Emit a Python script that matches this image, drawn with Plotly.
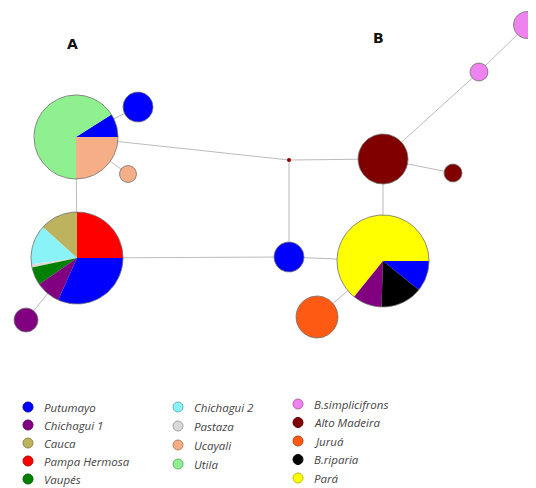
import math
import plotly.graph_objects as go

# ---------------- data ----------------
populations = ["Putumayo", "Chichagui 1", "Cauca", "Pampa Hermosa", "Vaupés",
               "Chichagui 2", "Pastaza", "Ucayali", "Utila",
               "B.simplicifrons", "Alto Madeira", "Juruá", "B.riparia", "Pará"]
pop_colors = ["#0000FF", "#800080", "#BDB35F", "#FF0000", "#008000",
              "#8AF3F7", "#D9D9D9", "#F6AE86", "#8EF08E",
              "#EE82EE", "#800000", "#FF5A14", "#000000", "#FFFF00"]

# haplotype compositions (population, share) in slice order
hap_A1_pops = ["Putumayo", "Utila", "Ucayali"]
hap_A1_vals = [0.09, 0.66, 0.25]
hap_A2_pops = ["Pampa Hermosa", "Cauca", "Chichagui 2", "Pastaza", "Vaupés", "Chichagui 1", "Putumayo"]
hap_A2_vals = [0.25, 0.133, 0.139, 0.011, 0.064, 0.086, 0.317]
hap_B1_pops = ["Pará", "Chichagui 1", "B.riparia", "Putumayo"]
hap_B1_vals = [0.642, 0.103, 0.147, 0.108]

single_haps = ["Putumayo", "Ucayali", "Chichagui 1", "Putumayo", "Alto Madeira",
               "Alto Madeira", "B.simplicifrons", "B.simplicifrons", "Juruá"]

legend_columns = [["Putumayo", "Chichagui 1", "Cauca", "Pampa Hermosa", "Vaupés"],
                  ["Chichagui 2", "Pastaza", "Ucayali", "Utila"],
                  ["B.simplicifrons", "Alto Madeira", "Juruá", "B.riparia", "Pará"]]

# ---------------- layout (pixel space) ----------------
W, H = 536, 488
OFF = 8  # page body margin
color_of = dict(zip(populations, pop_colors))

# node positions / radii
node_pos = {
    "A1": (76, 137, 42), "A2": (77, 258, 46), "B1": (383, 261, 46),
    "s0": (138, 107, 15), "s1": (128, 174, 8.5), "s2": (26, 320, 12),
    "s3": (289, 257, 15), "s4": (383, 159, 25), "s5": (453, 173, 9),
    "s6": (479, 72, 9), "s7": (527, 25, 13.5), "s8": (317, 317, 21),
    "mv": (289, 160, 2),
}
edges = [("A1", "A2"), ("A1", "s0"), ("A1", "s1"), ("A2", "s2"), ("A1", "mv"),
         ("mv", "s4"), ("mv", "s3"), ("A2", "s3"), ("s3", "B1"), ("s4", "B1"),
         ("s4", "s5"), ("s4", "s6"), ("s6", "s7"), ("s8", "B1")]

fig = go.Figure()

for a, b in edges:
    x0, y0, _ = node_pos[a]
    x1, y1, _ = node_pos[b]
    fig.add_trace(go.Scatter(x=[x0, x1], y=[y0, y1], mode="lines",
                             line=dict(color="#BBBBBB", width=1),
                             hoverinfo="skip", showlegend=False))


def darker(hexc, f=0.6):
    h = hexc.lstrip("#")
    r, g, b = int(h[0:2], 16), int(h[2:4], 16), int(h[4:6], 16)
    return "rgb(%d,%d,%d)" % (r * f, g * f, b * f)


def add_pie(key, pops, vals):
    cx, cy, r = node_pos[key]
    tot = sum(vals)
    start = 0.0
    for p, v in zip(pops, vals):
        span = 2 * math.pi * v / tot
        n = max(4, int(120 * v / tot))
        xs, ys = [cx], [cy]
        for i in range(n + 1):
            a = start + span * i / n
            xs.append(cx + r * math.cos(a))
            ys.append(cy - r * math.sin(a))
        xs.append(cx); ys.append(cy)
        fig.add_trace(go.Scatter(x=xs, y=ys, mode="lines", fill="toself",
                                 fillcolor=color_of[p], line=dict(width=0),
                                 hoverinfo="skip", showlegend=False))
        start += span
    xs = [cx + r * math.cos(2 * math.pi * i / 180) for i in range(181)]
    ys = [cy - r * math.sin(2 * math.pi * i / 180) for i in range(181)]
    fig.add_trace(go.Scatter(x=xs, y=ys, mode="lines",
                             line=dict(color="#6E6E6E", width=0.8),
                             hoverinfo="skip", showlegend=False))


add_pie("A1", hap_A1_pops, hap_A1_vals)
add_pie("A2", hap_A2_pops, hap_A2_vals)
add_pie("B1", hap_B1_pops, hap_B1_vals)

for i, p in enumerate(single_haps):
    add_pie("s%d" % i, [p], [1])

# median vector
mx, my, _ = node_pos["mv"]
fig.add_trace(go.Scatter(x=[mx], y=[my], mode="markers",
                         marker=dict(size=4, color="#8B0000"),
                         hoverinfo="skip", showlegend=False))

# legend
col_x = [28, 178, 298]
col_y0 = [407, 407, 404]
col_dy = [18, 19, 18.5]
for ci, col in enumerate(legend_columns):
    for ri, p in enumerate(col):
        y = col_y0[ci] + ri * col_dy[ci]
        fig.add_trace(go.Scatter(x=[col_x[ci]], y=[y], mode="markers",
                                 marker=dict(size=10, color=color_of[p],
                                             line=dict(color=darker(color_of[p], 0.75), width=1)),
                                 hoverinfo="skip", showlegend=False))
        fig.add_annotation(x=col_x[ci] + 14, y=y, text="<i>%s</i>" % p,
                           showarrow=False, xanchor="left", yanchor="middle",
                           font=dict(family="Open Sans", size=11.5, color="#444444"))

fig.add_annotation(x=72, y=44, text="<b>A</b>", showarrow=False,
                   font=dict(family="DejaVu Sans", size=14, color="#111111"))
fig.add_annotation(x=378, y=38, text="<b>B</b>", showarrow=False,
                   font=dict(family="DejaVu Sans", size=14, color="#111111"))

fig.update_layout(width=W - OFF, height=H - OFF, autosize=False,
                  margin=dict(l=0, r=0, t=0, b=0),
                  paper_bgcolor="white", plot_bgcolor="white",
                  xaxis=dict(range=[OFF, W], visible=False, fixedrange=True),
                  yaxis=dict(range=[H, OFF], visible=False, fixedrange=True))

fig.write_html("out.html")
